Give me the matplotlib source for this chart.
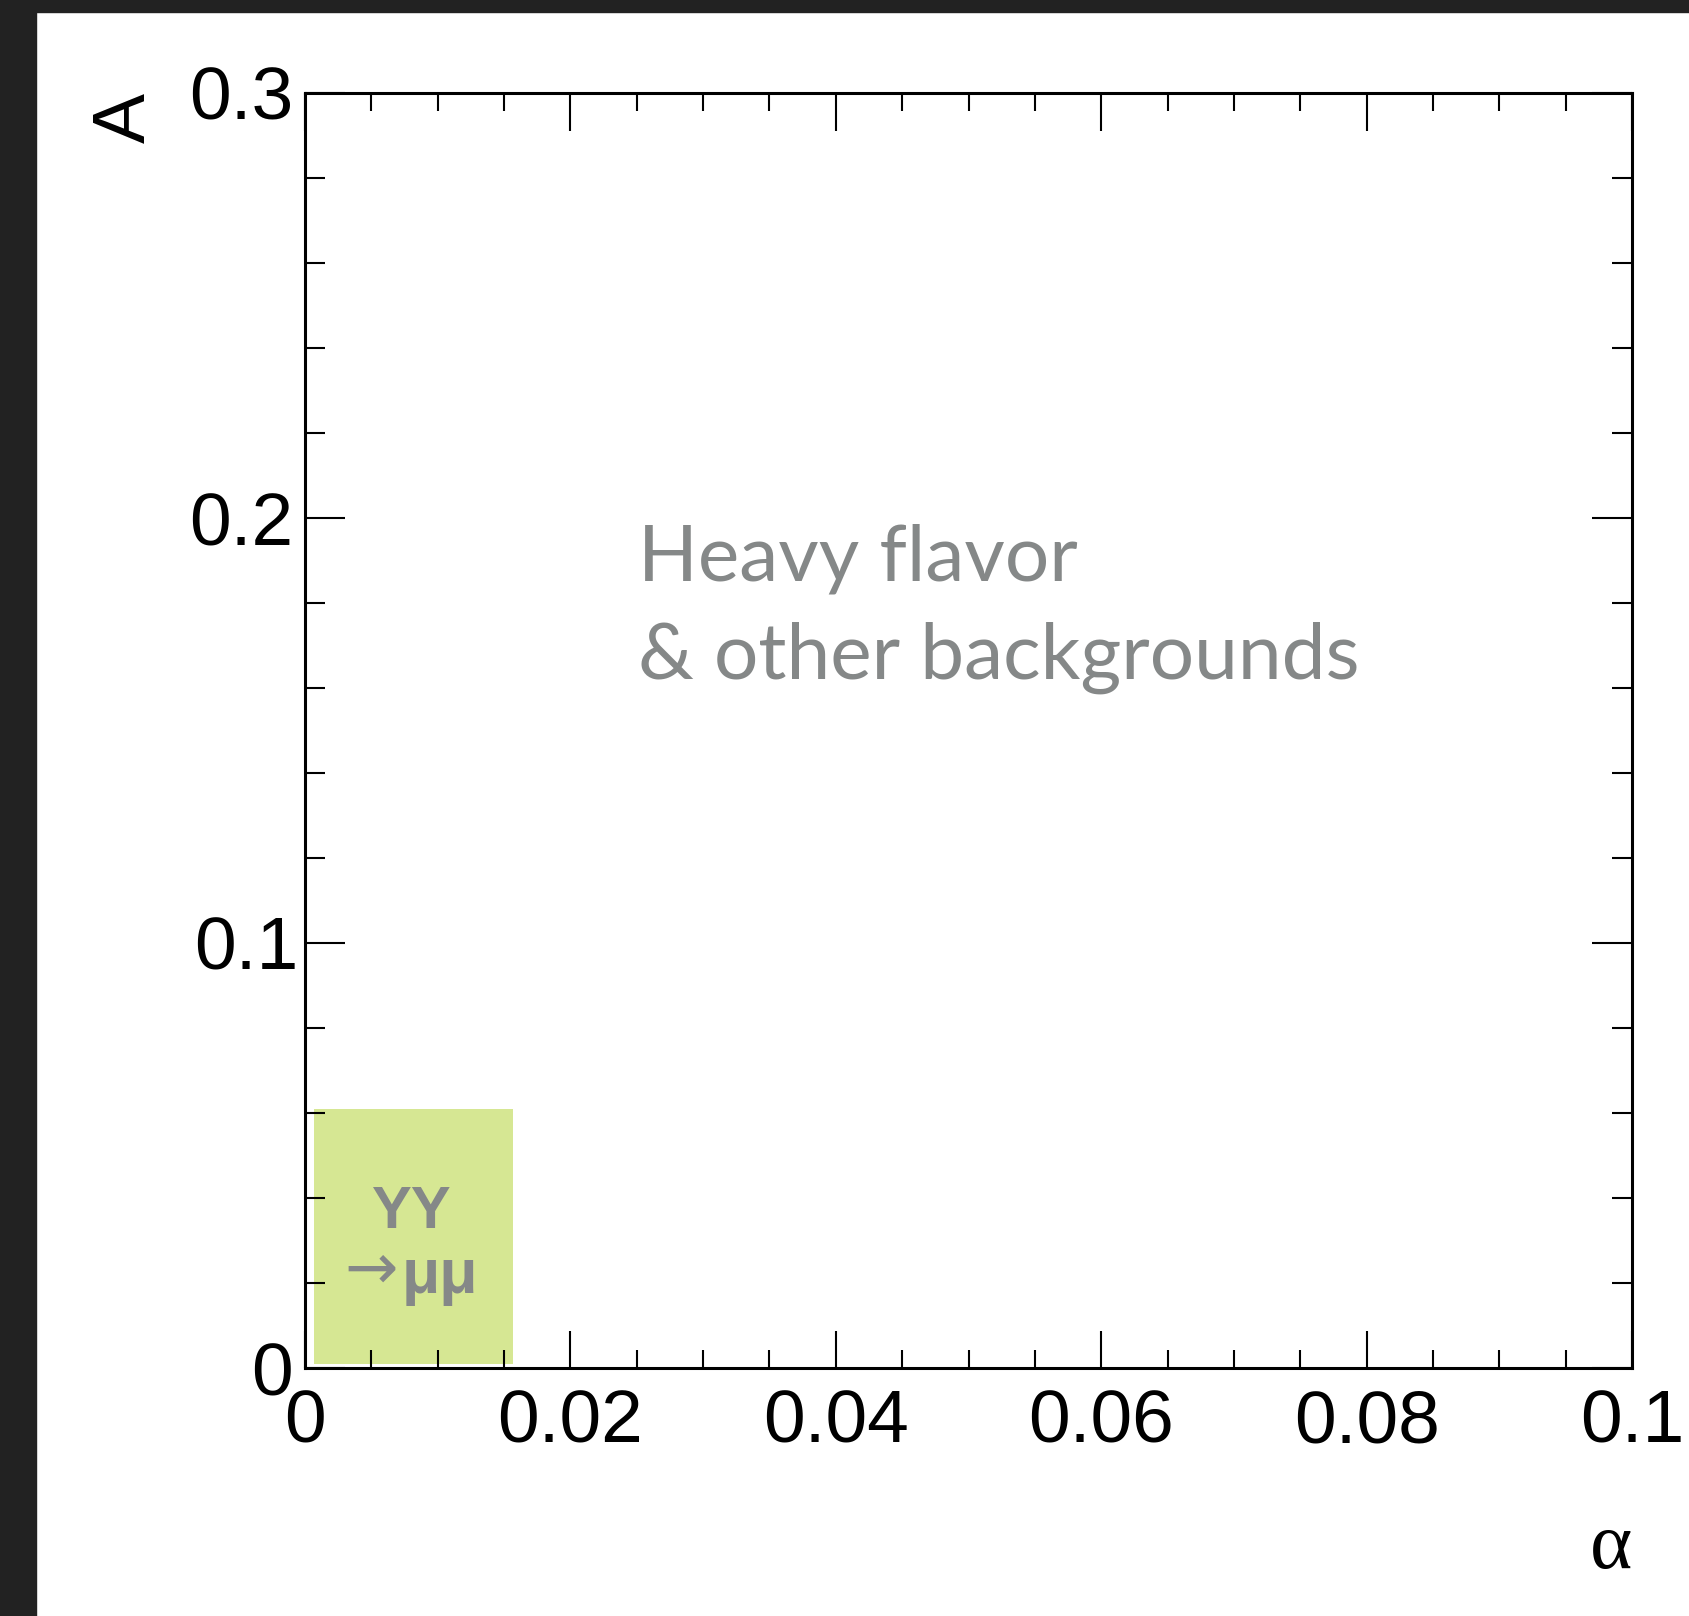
#plot of the A vs alpha plane with the upsilon -> mumu region marked
import numpy as np
import matplotlib
matplotlib.use('Agg')
import matplotlib.pyplot as plt
import matplotlib.transforms as mtransforms
from matplotlib.patches import Rectangle

#axis ticks and labels
x_ticks = [0, 0.02, 0.04, 0.06, 0.08, 0.1]
x_tick_labels = ['0', '0.02', '0.04', '0.06', '0.08', '0.1']
y_ticks = [0, 0.1, 0.2, 0.3]
y_tick_labels = ['0', '0.1', '0.2', '0.3']

#signal region box (alpha range, A range)
box_alpha = [0.0007, 0.0157]
box_A = [0.001, 0.061]

box_color = '#d6e793'
text_gray = '#858888'

fig = plt.figure(figsize=(16.9, 16.16), dpi=100)
fig.patch.set_facecolor('white')

#dark frame on the top and left edge of the screenshot
fig.patches.append(Rectangle((0, 0), 36/1690, 1, transform=fig.transFigure, color='#222222', zorder=10))
fig.patches.append(Rectangle((0, 1 - 12/1616), 1, 12/1616, transform=fig.transFigure, color='#222222', zorder=10))

ax = fig.add_axes([305/1690, 248/1616, 1327/1690, 1275/1616])
ax.set_xlim(0, 0.1)
ax.set_ylim(0, 0.3)

# the green box
ax.bar(box_alpha[0], box_A[1] - box_A[0], width=box_alpha[1] - box_alpha[0],
       bottom=box_A[0], align='edge', color=box_color, linewidth=0, zorder=1)

ax.text(0.0080, 0.0329, 'ΥΥ', family=['Liberation Sans', 'DejaVu Sans'], weight='bold',
        fontsize=43, color=text_gray, ha='center', va='baseline', zorder=3)
ax.text(0.0070, 0.0187, '→', family='DejaVu Sans',
        fontsize=46, color=text_gray, ha='right', va='baseline', zorder=3)
ax.text(0.0073, 0.0176, 'μμ', family=['Liberation Sans', 'DejaVu Sans'], weight='bold',
        fontsize=45, color=text_gray, ha='left', va='baseline', zorder=3)

# background label
ax.text(0.0251, 0.1854, 'Heavy flavor', family='Lato', fontsize=56.5, color=text_gray, va='baseline')
ax.text(0.0251, 0.1621, '& other backgrounds', family='Lato', fontsize=56.5, color=text_gray, va='baseline')

#ticks on all sides, pointing in (ROOT style)
ax.set_xticks(x_ticks)
ax.set_xticklabels(x_tick_labels)
ax.set_yticks(y_ticks)
ax.set_yticklabels(y_tick_labels)
ax.set_xticks(np.arange(0, 0.1001, 0.005), minor=True)
ax.set_yticks(np.arange(0, 0.3001, 0.02), minor=True)
ax.tick_params(which='both', direction='in', top=True, right=True, width=1.5, color='black')
ax.tick_params(axis='x', which='major', length=27, pad=15)
ax.tick_params(axis='x', which='minor', length=13)
ax.tick_params(axis='y', which='major', length=29, pad=8.5)
ax.tick_params(axis='y', which='minor', length=14.5)
for lab in ax.get_xticklabels() + ax.get_yticklabels():
    lab.set_family('Liberation Sans')
    lab.set_fontsize(54)

# the 0.1 label sits a bit further right in the original
lab01 = ax.get_yticklabels()[1]
lab01.set_transform(lab01.get_transform() + mtransforms.ScaledTranslation(5/100, 0, fig.dpi_scale_trans))

for s in ax.spines.values():
    s.set_linewidth(2.2)
    s.set_zorder(5)

ax.set_xlabel('α', family='Liberation Serif', fontsize=58)
ax.xaxis.label.set_ha('right')
ax.xaxis.label.set_va('baseline')
ax.xaxis.set_label_coords(1.0, -0.157)

ax.set_ylabel('A', family='Liberation Sans', fontsize=54)
ax.yaxis.label.set_ha('right')
ax.yaxis.label.set_va('baseline')
ax.yaxis.set_label_coords(-0.1206, 1.0)

fig.savefig('out.png', dpi=100)
